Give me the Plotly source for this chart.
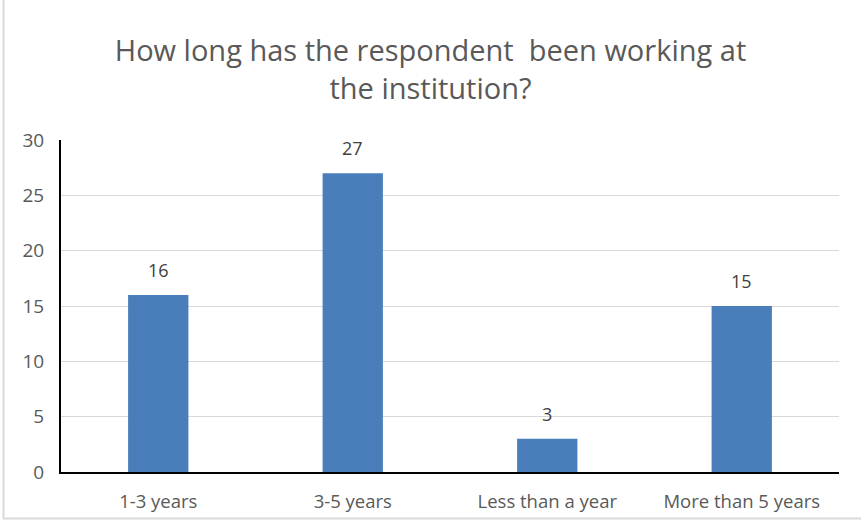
import plotly.graph_objects as go

categories = ["1-3 years", "3-5 years", "Less than a year", "More than 5 years"]
values = [16, 27, 3, 15]
y_ticks = [0, 5, 10, 15, 20, 25, 30]
title_text = "How long has the respondent  been working at<br>the institution?"

W, H = 861, 525
ml, mr, mt, mb = 61, 22, 140, 53
pw, ph = W - ml - mr, H - mt - mb

def px(x):
    return (x - ml) / pw

def py(y):
    return (H - mb - y) / ph

FONT = "Open Sans, sans-serif"

fig = go.Figure(go.Bar(
    x=categories, y=values, width=0.31,
    marker=dict(color="#4a7ebb", line=dict(width=0)),
    hoverinfo="x+y",
))

for c, v in zip(categories, values):
    fig.add_annotation(x=c, y=v, text=str(v), showarrow=False, yanchor="middle", yshift=25,
                       font=dict(family=FONT, size=18, color="#404040"))

fig.update_layout(
    width=W, height=H,
    margin=dict(l=ml, r=mr, t=mt, b=mb),
    paper_bgcolor="white", plot_bgcolor="white",
    title=dict(text=title_text, x=0.5, xanchor="center", y=1 - 61 / H, yanchor="middle",
               font=dict(family=FONT, size=29, color="#595959")),
    font=dict(family=FONT, size=18, color="#595959"),
    showlegend=False,
    bargap=0.69,
    xaxis=dict(showline=True, linecolor="black", linewidth=2, showgrid=False,
               ticks="", tickfont=dict(size=18.5, color="#595959"), ticklabelstandoff=12),
    yaxis=dict(range=[0, 30], tickvals=y_ticks, showline=True, linecolor="black", linewidth=2,
               showgrid=True, gridcolor="#d9d9d9", gridwidth=1, zeroline=False,
               ticks="", tickfont=dict(size=19, color="#595959"), ticklabelstandoff=11),
    shapes=[
        dict(type="line", xref="paper", yref="paper", x0=px(3), x1=px(W + 5), y0=py(H - 6.5), y1=py(H - 6.5),
             line=dict(color="#d9d9d9", width=2)),
        dict(type="line", xref="paper", yref="paper", x0=px(3.5), x1=px(3.5), y0=py(-5), y1=py(H - 6.5),
             line=dict(color="#d9d9d9", width=2)),
    ],
)

fig.write_html("out.html")
